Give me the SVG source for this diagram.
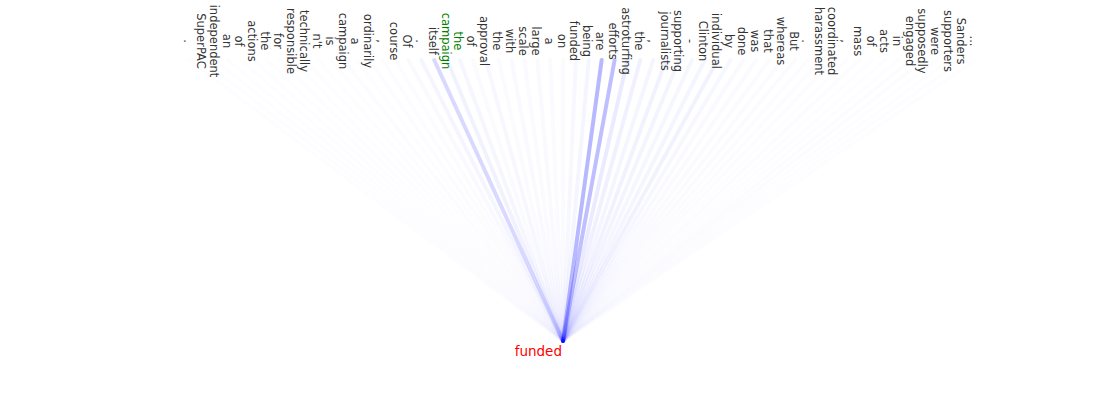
<svg xmlns="http://www.w3.org/2000/svg" width="1100" height="400" viewBox="0 0 1100 400">
<style>
.w{font-family:"DejaVu Sans",sans-serif;font-size:11.5px;fill:#333;text-anchor:middle}
.g{fill:#008000}
.l{stroke:#00f;stroke-width:4;stroke-linecap:round;fill:none}
.q{font-family:"DejaVu Sans",sans-serif;font-size:13.5px;fill:#f00;text-anchor:end}
</style>
<rect width="1100" height="400" fill="#fff"/>
<g id="connectors">
<line class="l" x1="975.4" y1="60" x2="563" y2="341" stroke-opacity="0.006"/>
<line class="l" x1="962.5" y1="60" x2="563" y2="341" stroke-opacity="0.006"/>
<line class="l" x1="949.6" y1="60" x2="563" y2="341" stroke-opacity="0.006"/>
<line class="l" x1="936.7" y1="60" x2="563" y2="341" stroke-opacity="0.006"/>
<line class="l" x1="923.8" y1="60" x2="563" y2="341" stroke-opacity="0.01"/>
<line class="l" x1="911.0" y1="60" x2="563" y2="341" stroke-opacity="0.01"/>
<line class="l" x1="898.1" y1="60" x2="563" y2="341" stroke-opacity="0.006"/>
<line class="l" x1="885.2" y1="60" x2="563" y2="341" stroke-opacity="0.006"/>
<line class="l" x1="872.3" y1="60" x2="563" y2="341" stroke-opacity="0.006"/>
<line class="l" x1="859.4" y1="60" x2="563" y2="341" stroke-opacity="0.01"/>
<line class="l" x1="846.5" y1="60" x2="563" y2="341" stroke-opacity="0.006"/>
<line class="l" x1="833.6" y1="60" x2="563" y2="341" stroke-opacity="0.01"/>
<line class="l" x1="820.8" y1="60" x2="563" y2="341" stroke-opacity="0.012"/>
<line class="l" x1="807.9" y1="60" x2="563" y2="341" stroke-opacity="0.01"/>
<line class="l" x1="795.0" y1="60" x2="563" y2="341" stroke-opacity="0.015"/>
<line class="l" x1="782.1" y1="60" x2="563" y2="341" stroke-opacity="0.015"/>
<line class="l" x1="769.2" y1="60" x2="563" y2="341" stroke-opacity="0.02"/>
<line class="l" x1="756.3" y1="60" x2="563" y2="341" stroke-opacity="0.02"/>
<line class="l" x1="743.4" y1="60" x2="563" y2="341" stroke-opacity="0.025"/>
<line class="l" x1="730.6" y1="60" x2="563" y2="341" stroke-opacity="0.03"/>
<line class="l" x1="717.7" y1="60" x2="563" y2="341" stroke-opacity="0.05"/>
<line class="l" x1="704.8" y1="60" x2="563" y2="341" stroke-opacity="0.04"/>
<line class="l" x1="691.9" y1="60" x2="563" y2="341" stroke-opacity="0.035"/>
<line class="l" x1="679.0" y1="60" x2="563" y2="341" stroke-opacity="0.045"/>
<line class="l" x1="666.1" y1="60" x2="563" y2="341" stroke-opacity="0.05"/>
<line class="l" x1="653.2" y1="60" x2="563" y2="341" stroke-opacity="0.04"/>
<line class="l" x1="640.3" y1="60" x2="563" y2="341" stroke-opacity="0.06"/>
<line class="l" x1="627.5" y1="60" x2="563" y2="341" stroke-opacity="0.08"/>
<line class="l" x1="614.6" y1="60" x2="563" y2="341" stroke-opacity="0.25"/>
<line class="l" x1="601.7" y1="60" x2="563" y2="341" stroke-opacity="0.28"/>
<line class="l" x1="588.8" y1="60" x2="563" y2="341" stroke-opacity="0.04"/>
<line class="l" x1="575.9" y1="60" x2="563" y2="341" stroke-opacity="0.03"/>
<line class="l" x1="563.0" y1="60" x2="563" y2="341" stroke-opacity="0.02"/>
<line class="l" x1="550.1" y1="60" x2="563" y2="341" stroke-opacity="0.02"/>
<line class="l" x1="537.3" y1="60" x2="563" y2="341" stroke-opacity="0.025"/>
<line class="l" x1="524.4" y1="60" x2="563" y2="341" stroke-opacity="0.02"/>
<line class="l" x1="511.5" y1="60" x2="563" y2="341" stroke-opacity="0.025"/>
<line class="l" x1="498.6" y1="60" x2="563" y2="341" stroke-opacity="0.02"/>
<line class="l" x1="485.7" y1="60" x2="563" y2="341" stroke-opacity="0.03"/>
<line class="l" x1="472.8" y1="60" x2="563" y2="341" stroke-opacity="0.02"/>
<line class="l" x1="459.9" y1="60" x2="563" y2="341" stroke-opacity="0.035"/>
<line class="l" x1="447.1" y1="60" x2="563" y2="341" stroke-opacity="0.05"/>
<line class="l" x1="434.2" y1="60" x2="563" y2="341" stroke-opacity="0.15"/>
<line class="l" x1="421.3" y1="60" x2="563" y2="341" stroke-opacity="0.04"/>
<line class="l" x1="408.4" y1="60" x2="563" y2="341" stroke-opacity="0.025"/>
<line class="l" x1="395.5" y1="60" x2="563" y2="341" stroke-opacity="0.012"/>
<line class="l" x1="382.6" y1="60" x2="563" y2="341" stroke-opacity="0.01"/>
<line class="l" x1="369.7" y1="60" x2="563" y2="341" stroke-opacity="0.01"/>
<line class="l" x1="356.9" y1="60" x2="563" y2="341" stroke-opacity="0.008"/>
<line class="l" x1="344.0" y1="60" x2="563" y2="341" stroke-opacity="0.01"/>
<line class="l" x1="331.1" y1="60" x2="563" y2="341" stroke-opacity="0.006"/>
<line class="l" x1="318.2" y1="60" x2="563" y2="341" stroke-opacity="0.006"/>
<line class="l" x1="305.3" y1="60" x2="563" y2="341" stroke-opacity="0.006"/>
<line class="l" x1="292.4" y1="60" x2="563" y2="341" stroke-opacity="0.006"/>
<line class="l" x1="279.5" y1="60" x2="563" y2="341" stroke-opacity="0.006"/>
<line class="l" x1="266.7" y1="60" x2="563" y2="341" stroke-opacity="0.006"/>
<line class="l" x1="253.8" y1="60" x2="563" y2="341" stroke-opacity="0.006"/>
<line class="l" x1="240.9" y1="60" x2="563" y2="341" stroke-opacity="0.006"/>
<line class="l" x1="228.0" y1="60" x2="563" y2="341" stroke-opacity="0.008"/>
<line class="l" x1="215.1" y1="60" x2="563" y2="341" stroke-opacity="0.008"/>
<line class="l" x1="202.2" y1="60" x2="563" y2="341" stroke-opacity="0.008"/>
<line class="l" x1="189.3" y1="60" x2="563" y2="341" stroke-opacity="0.006"/>
</g>
<g id="t1"><text class="w" transform="translate(969.9,41) rotate(90)">...</text></g>
<g id="t2"><text class="w" transform="translate(957.0,41) rotate(90)">Sanders</text></g>
<g id="t3"><text class="w" transform="translate(944.1,41) rotate(90)">supporters</text></g>
<g id="t4"><text class="w" transform="translate(931.2,41) rotate(90)">were</text></g>
<g id="t5"><text class="w" transform="translate(918.3,41) rotate(90)">supposedly</text></g>
<g id="t6"><text class="w" transform="translate(905.5,41) rotate(90)">engaged</text></g>
<g id="t7"><text class="w" transform="translate(892.6,41) rotate(90)">in</text></g>
<g id="t8"><text class="w" transform="translate(879.7,41) rotate(90)">acts</text></g>
<g id="t9"><text class="w" transform="translate(866.8,41) rotate(90)">of</text></g>
<g id="t10"><text class="w" transform="translate(853.9,41) rotate(90)">mass</text></g>
<g id="t11"><text class="w" transform="translate(841.0,41) rotate(90)">,</text></g>
<g id="t12"><text class="w" transform="translate(828.1,41) rotate(90)">coordinated</text></g>
<g id="t13"><text class="w" transform="translate(815.3,41) rotate(90)">harassment</text></g>
<g id="t14"><text class="w" transform="translate(802.4,41) rotate(90)">.</text></g>
<g id="t15"><text class="w" transform="translate(789.5,41) rotate(90)">But</text></g>
<g id="t16"><text class="w" transform="translate(776.6,41) rotate(90)">whereas</text></g>
<g id="t17"><text class="w" transform="translate(763.7,41) rotate(90)">that</text></g>
<g id="t18"><text class="w" transform="translate(750.8,41) rotate(90)">was</text></g>
<g id="t19"><text class="w" transform="translate(737.9,41) rotate(90)">done</text></g>
<g id="t20"><text class="w" transform="translate(725.1,41) rotate(90)">by</text></g>
<g id="t21"><text class="w" transform="translate(712.2,41) rotate(90)">individual</text></g>
<g id="t22"><text class="w" transform="translate(699.3,41) rotate(90)">Clinton</text></g>
<g id="t23"><text class="w" transform="translate(686.4,41) rotate(90)">-</text></g>
<g id="t24"><text class="w" transform="translate(673.5,41) rotate(90)">supporting</text></g>
<g id="t25"><text class="w" transform="translate(660.6,41) rotate(90)">journalists</text></g>
<g id="t26"><text class="w" transform="translate(647.7,41) rotate(90)">,</text></g>
<g id="t27"><text class="w" transform="translate(634.8,41) rotate(90)">the</text></g>
<g id="t28"><text class="w" transform="translate(622.0,41) rotate(90)">astroturfing</text></g>
<g id="t29"><text class="w" transform="translate(609.1,41) rotate(90)">efforts</text></g>
<g id="t30"><text class="w" transform="translate(596.2,41) rotate(90)">are</text></g>
<g id="t31"><text class="w" transform="translate(583.3,41) rotate(90)">being</text></g>
<g id="t32"><text class="w" transform="translate(570.4,41) rotate(90)">funded</text></g>
<g id="t33"><text class="w" transform="translate(557.5,41) rotate(90)">on</text></g>
<g id="t34"><text class="w" transform="translate(544.6,41) rotate(90)">a</text></g>
<g id="t35"><text class="w" transform="translate(531.8,41) rotate(90)">large</text></g>
<g id="t36"><text class="w" transform="translate(518.9,41) rotate(90)">scale</text></g>
<g id="t37"><text class="w" transform="translate(506.0,41) rotate(90)">with</text></g>
<g id="t38"><text class="w" transform="translate(493.1,41) rotate(90)">the</text></g>
<g id="t39"><text class="w" transform="translate(480.2,41) rotate(90)">approval</text></g>
<g id="t40"><text class="w" transform="translate(467.3,41) rotate(90)">of</text></g>
<g id="t41"><text class="w g" transform="translate(454.4,41) rotate(90)">the</text></g>
<g id="t42"><text class="w g" transform="translate(441.6,41) rotate(90)">campaign</text></g>
<g id="t43"><text class="w" transform="translate(428.7,41) rotate(90)">itself</text></g>
<g id="t44"><text class="w" transform="translate(415.8,41) rotate(90)">.</text></g>
<g id="t45"><text class="w" transform="translate(402.9,41) rotate(90)">Of</text></g>
<g id="t46"><text class="w" transform="translate(390.0,41) rotate(90)">course</text></g>
<g id="t47"><text class="w" transform="translate(377.1,41) rotate(90)">,</text></g>
<g id="t48"><text class="w" transform="translate(364.2,41) rotate(90)">ordinarily</text></g>
<g id="t49"><text class="w" transform="translate(351.4,41) rotate(90)">a</text></g>
<g id="t50"><text class="w" transform="translate(338.5,41) rotate(90)">campaign</text></g>
<g id="t51"><text class="w" transform="translate(325.6,41) rotate(90)">is</text></g>
<g id="t52"><text class="w" transform="translate(312.7,41) rotate(90)">n't</text></g>
<g id="t53"><text class="w" transform="translate(299.8,41) rotate(90)">technically</text></g>
<g id="t54"><text class="w" transform="translate(286.9,41) rotate(90)">responsible</text></g>
<g id="t55"><text class="w" transform="translate(274.0,41) rotate(90)">for</text></g>
<g id="t56"><text class="w" transform="translate(261.2,41) rotate(90)">the</text></g>
<g id="t57"><text class="w" transform="translate(248.3,41) rotate(90)">actions</text></g>
<g id="t58"><text class="w" transform="translate(235.4,41) rotate(90)">of</text></g>
<g id="t59"><text class="w" transform="translate(222.5,41) rotate(90)">an</text></g>
<g id="t60"><text class="w" transform="translate(209.6,41) rotate(90)">independent</text></g>
<g id="t61"><text class="w" transform="translate(196.7,41) rotate(90)">SuperPAC</text></g>
<g id="t62"><text class="w" transform="translate(183.8,41) rotate(90)">.</text></g>
<g id="target"><text class="q" x="562" y="356">funded</text></g>
</svg>
